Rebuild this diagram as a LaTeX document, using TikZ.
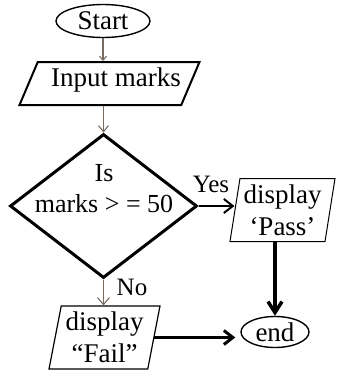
\documentclass[tikz,border=0pt]{standalone}
\usepackage{fontspec}
\setmainfont{Liberation Serif}
\usetikzlibrary{shapes.geometric,arrows.meta}
\definecolor{linegray}{RGB}{120,108,98}
\begin{document}
\begin{tikzpicture}[x=1pt,y=-1pt,
  txt/.style={font=\fontsize{27}{32}\selectfont, align=center, inner sep=0pt},
  term/.style={ellipse, draw, line width=1.4pt, inner sep=0pt, txt},
  io/.style={trapezium, trapezium stretches body=true, draw, inner sep=0pt, txt},
  thinflow/.style={draw=linegray, line width=1.1pt, -{Straight Barb[length=6pt,width=10pt]}},
  boldflow/.style={draw=black, -{Straight Barb[length=9pt,width=14pt]}}]
\useasboundingbox (0,0) rectangle (340,376);

% terminals
\node[term, minimum width=94, minimum height=33] (start) at (103,21) {Start};
\node[term, minimum width=68, minimum height=31] (end) at (275,332) {end};

% input / output boxes (the slant follows the body height)
\node[io, trapezium left angle=67, trapezium right angle=113, line width=2pt,
      text height=25pt, text depth=18pt, minimum width=180] (input) at (109.5,83.5) {};
\node[txt] (inputtext) at (116,80) {Input marks};
\node[io, trapezium left angle=81, trapezium right angle=99, line width=1pt,
      inner ysep=6pt, minimum width=105, minimum height=62] (pass) at (282.5,210) {display\\‘Pass’};
\node[io, trapezium left angle=79, trapezium right angle=101, line width=1.2pt,
      inner ysep=6pt, minimum width=111, minimum height=63] (fail) at (104.5,337.5) {display\\“Fail”};

% decision
\node[diamond, draw, line width=3pt, minimum width=187, minimum height=144, inner sep=0pt] (dec) at (103.5,206) {};
\node[txt, font=\fontsize{26}{31}\selectfont] (dectext) at (104,189) {Is\\marks > = 50};

% branch labels
\node[txt, font=\fontsize{25}{30}\selectfont] (yes) at (211,184) {Yes};
\node[txt, font=\fontsize{25}{30}\selectfont] (no) at (132,287) {No};

% connectors
\draw[thinflow, -{Straight Barb[length=4pt,width=7pt]}] (start.south) -- (start.south |- input.north);
\draw[thinflow] (dec.north |- input.south) -- (dec.north);
\draw[thinflow, -{Straight Barb[length=7pt,width=12pt]}] (dec.south) -- (dec.south |- fail.north);
\draw[boldflow, line width=2pt] (dec.east) -- (pass.west |- dec.east);
\draw[boldflow, line width=3.5pt, -{Straight Barb[length=11pt,width=14pt]}] (end.north |- pass.south) -- (end.north);
\draw[boldflow, line width=3pt, shorten >=5pt] (fail.east) -- (fail.east -| end.west);
\end{tikzpicture}
\end{document}
